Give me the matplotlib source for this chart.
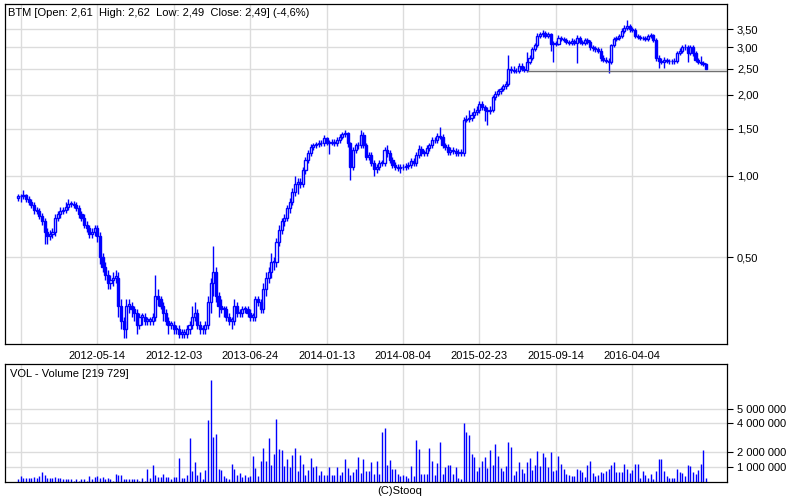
import matplotlib
matplotlib.use("Agg")
import matplotlib.pyplot as plt
from matplotlib.ticker import NullLocator
import numpy as np
import pandas as pd

plt.rcParams["font.family"] = ["Liberation Sans", "DejaVu Sans"]
plt.rcParams["font.size"] = 8

# weekly BTM quotes, first week starting 2011-10-17
start_week = "2011-10-17"

opens = [
    0.83, 0.84, 0.84, 0.85, 0.82, 0.80, 0.78, 0.75, 0.74, 0.71,
    0.68, 0.62, 0.60, 0.61, 0.62, 0.70, 0.72, 0.74, 0.75, 0.77,
    0.79, 0.79, 0.78, 0.76, 0.72, 0.70, 0.66, 0.64, 0.61, 0.62,
    0.64, 0.60, 0.50, 0.46, 0.43, 0.40, 0.41, 0.42, 0.42, 0.33,
    0.29, 0.27, 0.33, 0.33, 0.32, 0.31, 0.28, 0.30, 0.30, 0.29,
    0.29, 0.29, 0.30, 0.36, 0.35, 0.33, 0.31, 0.29, 0.28, 0.28,
    0.27, 0.27, 0.26, 0.26, 0.26, 0.27, 0.28, 0.30, 0.31, 0.28,
    0.27, 0.27, 0.28, 0.34, 0.40, 0.44, 0.36, 0.33, 0.32, 0.32,
    0.30, 0.29, 0.29, 0.33, 0.31, 0.31, 0.32, 0.32, 0.31, 0.30,
    0.30, 0.35, 0.34, 0.32, 0.38, 0.42, 0.44, 0.48, 0.48, 0.57,
    0.63, 0.68, 0.70, 0.76, 0.80, 0.87, 0.93, 0.95, 0.93, 1.05,
    1.15, 1.22, 1.28, 1.30, 1.31, 1.33, 1.32, 1.38, 1.33, 1.33,
    1.34, 1.32, 1.36, 1.40, 1.43, 1.44, 1.32, 1.08, 1.25, 1.30,
    1.30, 1.42, 1.30, 1.18, 1.20, 1.12, 1.06, 1.08, 1.12, 1.12,
    1.25, 1.22, 1.15, 1.10, 1.08, 1.07, 1.08, 1.08, 1.09, 1.10,
    1.14, 1.12, 1.20, 1.26, 1.22, 1.22, 1.27, 1.30, 1.36, 1.36,
    1.41, 1.40, 1.30, 1.28, 1.23, 1.25, 1.24, 1.22, 1.23, 1.22,
    1.62, 1.63, 1.64, 1.68, 1.72, 1.75, 1.85, 1.80, 1.76, 1.74,
    1.76, 1.96, 2.02, 2.06, 2.10, 2.15, 2.20, 2.50, 2.47, 2.46,
    2.45, 2.55, 2.50, 2.48, 2.65, 2.75, 2.95, 3.05, 3.30, 3.35,
    3.40, 3.30, 3.35, 3.10, 3.12, 3.10, 3.25, 3.22, 3.20, 3.15,
    3.12, 3.18, 3.12, 3.25, 3.15, 3.12, 3.20, 3.15, 3.00, 2.98,
    2.95, 2.92, 2.75, 2.70, 2.68, 2.65, 3.05, 3.22, 3.25, 3.30,
    3.45, 3.55, 3.60, 3.50, 3.48, 3.30, 3.28, 3.25, 3.25, 3.22,
    3.30, 3.32, 3.20, 2.75, 2.68, 2.65, 2.70, 2.68, 2.66, 2.66,
    2.68, 2.85, 2.92, 3.00, 3.02, 2.85, 3.00, 2.85, 2.70, 2.65,
    2.62, 2.61,
]

highs = [
    0.86, 0.86, 0.89, 0.86, 0.84, 0.82, 0.80, 0.77, 0.76, 0.73,
    0.70, 0.64, 0.63, 0.64, 0.72, 0.74, 0.77, 0.77, 0.80, 0.82,
    0.81, 0.81, 0.80, 0.78, 0.74, 0.72, 0.68, 0.66, 0.64, 0.66,
    0.66, 0.62, 0.52, 0.48, 0.45, 0.43, 0.44, 0.45, 0.44, 0.35,
    0.30, 0.35, 0.35, 0.34, 0.33, 0.32, 0.31, 0.31, 0.31, 0.30,
    0.30, 0.31, 0.43, 0.38, 0.36, 0.34, 0.32, 0.30, 0.29, 0.29,
    0.28, 0.28, 0.27, 0.27, 0.28, 0.29, 0.33, 0.34, 0.32, 0.29,
    0.28, 0.29, 0.36, 0.42, 0.55, 0.46, 0.37, 0.35, 0.33, 0.33,
    0.31, 0.30, 0.35, 0.34, 0.32, 0.33, 0.33, 0.33, 0.32, 0.31,
    0.36, 0.36, 0.35, 0.40, 0.44, 0.46, 0.52, 0.50, 0.59, 0.66,
    0.70, 0.72, 0.78, 0.83, 0.90, 1.00, 0.98, 0.98, 1.08, 1.18,
    1.25, 1.31, 1.33, 1.34, 1.36, 1.36, 1.42, 1.40, 1.36, 1.37,
    1.37, 1.39, 1.43, 1.46, 1.48, 1.46, 1.34, 1.28, 1.33, 1.34,
    1.48, 1.45, 1.33, 1.23, 1.23, 1.15, 1.11, 1.15, 1.15, 1.28,
    1.30, 1.25, 1.18, 1.13, 1.11, 1.11, 1.11, 1.12, 1.13, 1.17,
    1.17, 1.23, 1.30, 1.29, 1.25, 1.30, 1.33, 1.40, 1.39, 1.44,
    1.52, 1.43, 1.33, 1.31, 1.28, 1.28, 1.27, 1.26, 1.26, 1.66,
    1.68, 1.75, 1.73, 1.78, 1.82, 1.90, 1.89, 1.84, 1.80, 1.82,
    2.00, 2.06, 2.10, 2.14, 2.19, 2.26, 2.82, 2.56, 2.55, 2.52,
    2.62, 2.62, 2.56, 2.88, 2.82, 3.02, 3.12, 3.38, 3.43, 3.48,
    3.46, 3.42, 3.40, 3.18, 3.17, 3.32, 3.30, 3.27, 3.25, 3.20,
    3.24, 3.23, 3.33, 3.30, 3.20, 3.26, 3.25, 3.20, 3.06, 3.03,
    3.00, 2.98, 2.82, 2.76, 2.74, 3.10, 3.28, 3.31, 3.36, 3.55,
    3.62, 3.80, 3.66, 3.56, 3.54, 3.36, 3.33, 3.30, 3.30, 3.36,
    3.38, 3.37, 3.26, 2.82, 2.74, 2.76, 2.75, 2.72, 2.71, 2.73,
    2.91, 2.98, 3.06, 3.08, 3.07, 3.06, 3.05, 2.90, 2.75, 2.78,
    2.66, 2.62,
]

lows = [
    0.81, 0.80, 0.82, 0.80, 0.78, 0.76, 0.72, 0.72, 0.69, 0.66,
    0.56, 0.56, 0.58, 0.59, 0.60, 0.68, 0.70, 0.72, 0.73, 0.75,
    0.77, 0.76, 0.74, 0.70, 0.68, 0.64, 0.62, 0.59, 0.59, 0.60,
    0.57, 0.47, 0.44, 0.41, 0.38, 0.38, 0.39, 0.40, 0.30, 0.27,
    0.25, 0.25, 0.31, 0.30, 0.29, 0.26, 0.27, 0.28, 0.28, 0.28,
    0.28, 0.28, 0.29, 0.33, 0.32, 0.29, 0.28, 0.26, 0.27, 0.26,
    0.26, 0.25, 0.25, 0.25, 0.25, 0.26, 0.27, 0.29, 0.27, 0.26,
    0.26, 0.26, 0.27, 0.31, 0.36, 0.34, 0.30, 0.31, 0.30, 0.29,
    0.28, 0.27, 0.28, 0.30, 0.30, 0.30, 0.31, 0.30, 0.29, 0.29,
    0.29, 0.33, 0.31, 0.31, 0.36, 0.40, 0.42, 0.45, 0.46, 0.55,
    0.61, 0.65, 0.68, 0.73, 0.78, 0.84, 0.86, 0.90, 0.91, 1.02,
    1.12, 1.19, 1.25, 1.27, 1.28, 1.29, 1.29, 1.30, 1.21, 1.30,
    1.29, 1.29, 1.33, 1.37, 1.40, 1.28, 0.97, 1.05, 1.22, 1.26,
    1.27, 1.27, 1.15, 1.15, 1.09, 1.00, 1.03, 1.05, 1.09, 1.09,
    1.18, 1.12, 1.07, 1.05, 1.04, 1.03, 1.05, 1.05, 1.06, 1.07,
    1.09, 1.09, 1.17, 1.19, 1.19, 1.19, 1.24, 1.27, 1.32, 1.33,
    1.37, 1.27, 1.25, 1.20, 1.20, 1.21, 1.19, 1.19, 1.19, 1.19,
    1.58, 1.59, 1.60, 1.64, 1.68, 1.71, 1.76, 1.60, 1.55, 1.70,
    1.72, 1.92, 1.98, 2.02, 2.06, 2.11, 2.16, 2.42, 2.42, 2.41,
    2.42, 2.45, 2.43, 2.44, 2.60, 2.70, 2.90, 3.00, 3.24, 3.28,
    3.24, 3.24, 2.90, 2.65, 3.04, 3.05, 3.16, 3.14, 3.09, 3.06,
    3.07, 3.06, 2.62, 3.09, 3.06, 3.07, 3.09, 2.94, 2.92, 2.89,
    2.86, 2.68, 2.64, 2.62, 2.40, 2.60, 3.00, 3.16, 3.19, 3.25,
    3.40, 3.48, 3.43, 3.42, 3.24, 3.22, 3.19, 3.19, 3.16, 3.17,
    3.24, 3.14, 2.68, 2.52, 2.60, 2.52, 2.63, 2.61, 2.61, 2.61,
    2.63, 2.80, 2.87, 2.94, 2.65, 2.80, 2.78, 2.64, 2.60, 2.57,
    2.56, 2.49,
]

closes = [
    0.84, 0.84, 0.85, 0.82, 0.80, 0.78, 0.75, 0.74, 0.71, 0.68,
    0.62, 0.60, 0.61, 0.62, 0.70, 0.72, 0.74, 0.75, 0.77, 0.79,
    0.79, 0.78, 0.76, 0.72, 0.70, 0.66, 0.64, 0.61, 0.62, 0.64,
    0.60, 0.50, 0.46, 0.43, 0.40, 0.41, 0.42, 0.42, 0.33, 0.29,
    0.27, 0.33, 0.33, 0.32, 0.31, 0.28, 0.30, 0.30, 0.29, 0.29,
    0.29, 0.30, 0.36, 0.35, 0.33, 0.31, 0.29, 0.28, 0.28, 0.27,
    0.27, 0.26, 0.26, 0.26, 0.27, 0.28, 0.30, 0.31, 0.28, 0.27,
    0.27, 0.28, 0.34, 0.40, 0.44, 0.36, 0.33, 0.32, 0.32, 0.30,
    0.29, 0.29, 0.33, 0.31, 0.31, 0.32, 0.32, 0.31, 0.30, 0.30,
    0.35, 0.34, 0.32, 0.38, 0.42, 0.44, 0.48, 0.48, 0.57, 0.63,
    0.68, 0.70, 0.76, 0.80, 0.87, 0.93, 0.95, 0.93, 1.05, 1.15,
    1.22, 1.28, 1.30, 1.31, 1.33, 1.32, 1.38, 1.33, 1.33, 1.34,
    1.32, 1.36, 1.40, 1.43, 1.44, 1.32, 1.08, 1.25, 1.30, 1.30,
    1.42, 1.30, 1.18, 1.20, 1.12, 1.06, 1.08, 1.12, 1.12, 1.25,
    1.22, 1.15, 1.10, 1.08, 1.07, 1.08, 1.08, 1.09, 1.10, 1.14,
    1.12, 1.20, 1.26, 1.22, 1.22, 1.27, 1.30, 1.36, 1.36, 1.41,
    1.40, 1.30, 1.28, 1.23, 1.25, 1.24, 1.22, 1.23, 1.22, 1.62,
    1.63, 1.64, 1.68, 1.72, 1.75, 1.85, 1.80, 1.76, 1.74, 1.76,
    1.96, 2.02, 2.06, 2.10, 2.15, 2.20, 2.50, 2.47, 2.46, 2.45,
    2.55, 2.50, 2.48, 2.65, 2.75, 2.95, 3.05, 3.30, 3.35, 3.40,
    3.30, 3.35, 3.10, 3.12, 3.10, 3.25, 3.22, 3.20, 3.15, 3.12,
    3.18, 3.12, 3.25, 3.15, 3.12, 3.20, 3.15, 3.00, 2.98, 2.95,
    2.92, 2.75, 2.70, 2.68, 2.65, 3.05, 3.22, 3.25, 3.30, 3.45,
    3.55, 3.60, 3.50, 3.48, 3.30, 3.28, 3.25, 3.25, 3.22, 3.30,
    3.32, 3.20, 2.75, 2.68, 2.65, 2.70, 2.68, 2.66, 2.66, 2.68,
    2.85, 2.92, 3.00, 3.02, 2.85, 3.00, 2.85, 2.70, 2.65, 2.62,
    2.61, 2.49,
]

# weekly volume in millions of shares
volumes_m = [
    0.20, 0.36, 0.24, 0.24, 0.26, 0.26, 0.31, 0.26, 0.36, 0.63,
    0.43, 0.26, 0.26, 0.26, 0.31, 0.26, 0.24, 0.20, 0.20, 0.17,
    0.17, 0.05, 0.20, 0.05, 0.17, 0.17, 0.05, 0.36, 0.20, 0.31,
    0.36, 0.24, 0.31, 0.17, 0.26, 0.20, 0.05, 0.54, 0.43, 0.43,
    0.20, 0.20, 0.17, 0.20, 0.20, 0.17, 0.05, 0.26, 0.05, 0.84,
    0.24, 1.11, 0.43, 0.31, 0.31, 0.54, 0.31, 0.31, 0.20, 0.31,
    0.31, 1.62, 0.26, 0.26, 0.43, 3.00, 0.70, 1.34, 0.43, 0.63,
    0.15, 0.77, 4.22, 6.98, 3.07, 3.25, 0.84, 0.77, 0.36, 0.26,
    0.20, 1.23, 0.84, 0.43, 0.59, 0.31, 0.43, 0.31, 0.36, 1.74,
    0.93, 0.36, 1.41, 2.33, 1.41, 3.00, 1.11, 1.87, 4.29, 2.22,
    2.15, 1.07, 1.57, 1.00, 1.80, 2.29, 0.72, 1.80, 1.18, 0.43,
    0.77, 1.62, 1.00, 1.05, 0.47, 0.72, 0.43, 0.43, 1.00, 0.43,
    0.43, 1.00, 0.43, 0.66, 1.55, 0.93, 0.43, 0.66, 0.86, 1.67,
    0.59, 1.55, 0.70, 0.70, 1.34, 0.49, 1.41, 0.49, 3.41, 3.67,
    1.11, 1.46, 0.84, 0.84, 0.54, 0.40,
    0.43, 0.36, 0.26, 1.05, 0.36, 2.84, 2.22, 0.49, 0.54, 0.49,
    2.29, 1.41, 0.43, 1.25, 2.70, 0.54, 1.00, 1.11, 1.11, 0.54,
    1.00, 0.26, 0.20, 4.03, 3.39, 3.18, 1.87, 1.67, 0.70, 1.00,
    1.39, 1.67, 0.93, 2.15, 1.11, 2.56, 1.74, 0.93, 0.70, 1.05,
    2.70, 2.36, 0.47, 0.72, 1.32, 0.89, 0.56, 1.32, 1.60, 0.77,
    1.16, 2.08, 1.05, 1.94, 1.67, 1.00, 2.01, 0.70, 0.77, 1.74,
    1.18, 0.84, 0.49, 0.43, 0.36, 0.36, 0.84, 0.77, 0.63, 0.31,
    1.11, 1.39, 0.56, 0.36, 0.43, 0.63, 0.56, 0.70, 0.84, 1.11,
    1.32, 0.63, 0.63, 0.63, 1.18, 0.84, 0.56, 0.77, 1.18, 1.18,
    0.22, 0.70, 0.43, 0.22, 0.49, 0.15, 0.70, 1.53, 1.53, 0.70,
    0.36, 0.22, 0.22, 0.22, 0.84, 0.63, 0.56, 0.36, 1.11, 1.05,
    0.63, 0.49, 0.77, 1.18, 2.15, 0.22,
]

tick_dates = ["2011-10-24", "2012-05-14", "2012-12-03", "2013-06-24", "2014-01-13",
              "2014-08-04", "2015-02-23", "2015-09-14", "2016-04-04"]
price_ticks = [0.5, 1.0, 1.5, 2.0, 2.5, 3.0, 3.5]
volume_ticks = [1000000, 2000000, 4000000, 5000000]
support_level = 2.45
support_from = "2015-06-29"

title = "BTM [Open: 2,61  High: 2,62  Low: 2,49  Close: 2,49] (-4,6%)"
vol_title = "VOL - Volume [219 729]"

BLUE = "#0000ff"
GRID = "#dcdcdc"

start = pd.Timestamp(start_week)
n = len(closes)
x = np.arange(n)
o = np.array(opens)
h = np.array(highs)
l = np.array(lows)
c = np.array(closes)
vol = np.array(volumes_m) * 1e6


def week_pos(d):
    return (pd.Timestamp(d) - start).days / 7.0


tick_pos = [week_pos(d) for d in tick_dates]
tick_lbl = [""] + tick_dates[1:]

fig = plt.figure(figsize=(8, 5), dpi=100)
ax = fig.add_axes([5.3 / 800, 156 / 500, 722 / 800, 340 / 500])
axv = fig.add_axes([5.3 / 800, 18.5 / 500, 722 / 800, 117.5 / 500])

# price panel
ax.set_yscale("log")
ax.set_xlim(-4.9, 269.05)
ax.set_ylim(0.2382, 4.344)
ax.set_axisbelow(True)
ax.grid(True, color=GRID, lw=1.0)

ax.vlines(x, l, h, color=BLUE, lw=1.0, zorder=2)
up = c >= o
body_lo = np.minimum(o, c)
body_h = np.maximum(np.abs(c - o), 0.004)
ax.bar(x[up], body_h[up], bottom=body_lo[up], width=0.8, facecolor="white",
       edgecolor=BLUE, linewidth=1.0, zorder=3)
ax.bar(x[~up], body_h[~up], bottom=body_lo[~up], width=0.8, facecolor=BLUE,
       edgecolor=BLUE, linewidth=1.0, zorder=3)

ax.hlines(support_level, week_pos(support_from), 269.05, color="#707070", lw=1.0, zorder=4)

ax.yaxis.tick_right()
ax.set_yticks(price_ticks)
ax.set_yticklabels([f"{v:.2f}".replace(".", ",") for v in price_ticks])
ax.yaxis.set_minor_locator(NullLocator())
ax.set_xticks(tick_pos)
ax.set_xticklabels(tick_lbl)
ax.tick_params(axis="x", length=0, pad=5)
ax.tick_params(axis="y", length=4, width=0.8, pad=3)
for s in ax.spines.values():
    s.set_linewidth(0.9)
ax.text(3 / 722, 1 - 9 / 340, title, transform=ax.transAxes, va="center", ha="left")

# volume panel
axv.set_xlim(-4.9, 269.05)
axv.set_ylim(0, 8.06e6)
axv.set_axisbelow(True)
axv.grid(True, color=GRID, lw=1.0)
axv.vlines(x, 0, vol, color=BLUE, lw=1.0)
axv.yaxis.tick_right()
axv.set_yticks(volume_ticks)
axv.set_yticklabels([f"{v:,.0f}".replace(",", " ") for v in volume_ticks])
axv.set_xticks(tick_pos)
axv.set_xticklabels([])
axv.tick_params(axis="x", length=0)
axv.tick_params(axis="y", length=4, width=0.8, pad=3)
for s in axv.spines.values():
    s.set_linewidth(0.9)
axv.text(5 / 722, 1 - 10 / 117.5, vol_title, transform=axv.transAxes, va="center", ha="left")

fig.text(0.5, 1 - 491 / 500, "(C)Stooq", ha="center", va="center")

fig.savefig("out.png", dpi=100)
